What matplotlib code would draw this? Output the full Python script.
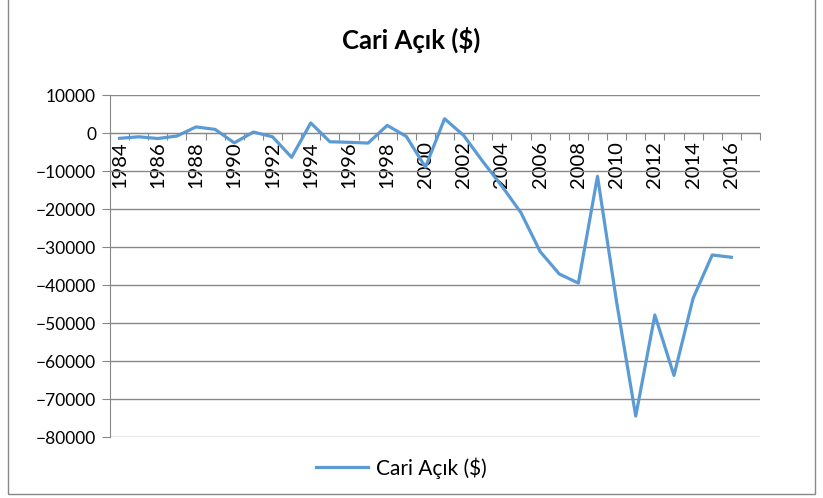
import matplotlib.pyplot as plt
from matplotlib.patches import Rectangle
from matplotlib.ticker import MultipleLocator

plt.rcParams["font.family"] = ["Lato", "DejaVu Sans"]

# Veriler
years = list(range(1984, 2017))
cari_acik = [-1400, -1000, -1450, -800, 1600, 950, -2600, 250, -1000, -6400,
             2650, -2300, -2450, -2650, 2000, -900, -9000, 3750, -650, -7500,
             -14000, -21000, -31200, -37100, -39500, -11400, -44500, -74500, -47900, -63800,
             -43500, -32100, -32700]
label_years = list(range(1984, 2017, 2))

line_color = '#5B9BD5'
grid_color = '#888888'

fig = plt.figure(figsize=(8.23, 4.98), dpi=100)
ax = fig.add_axes([110 / 823, 1 - 437 / 498, 650 / 823, 342 / 498])

# Linie
ax.plot(years, cari_acik, color=line_color, linewidth=2.3, label='Cari Açık ($)')

# Y-Achse
ax.set_ylim(-80000, 10000)
ax.yaxis.set_major_locator(MultipleLocator(10000))
ax.grid(axis='y', color=grid_color, linewidth=1)
ax.set_axisbelow(True)
ax.tick_params(axis='y', length=6, color=grid_color, labelsize=12.5, pad=4)

# X-Achse bei y=0, Teilstriche zwischen den Kategorien
ax.set_xlim(1983.5, 2017.5)
ax.spines['bottom'].set_position(('data', 0))
ax.spines['bottom'].set_color(grid_color)
ax.spines['left'].set_color(grid_color)
ax.spines['top'].set_visible(False)
ax.spines['right'].set_visible(False)
ax.set_xticks([y + 0.5 for y in range(1983, 2018)])
ax.tick_params(axis='x', which='major', length=5, color=grid_color, labelbottom=False)
ax.set_xticks(label_years, minor=True)
ax.set_xticklabels([str(y) for y in label_years], minor=True, rotation=90, fontsize=14.5)
ax.tick_params(axis='x', which='minor', length=0, pad=6)

# Titel
fig.text(0.5, 1 - 40 / 498, 'Cari Açık ($)', ha='center', va='center',
         fontsize=18.5, fontweight='bold')

# Legende
ax.legend(loc='center', bbox_to_anchor=(0.448, -0.09), frameon=False,
          fontsize=15, handlelength=2.5, handletextpad=0.35)

# Rahmen
fig.patches.append(Rectangle((8 / 823, 4 / 498), 807 / 823, 500 / 498,
                             transform=fig.transFigure, fill=False,
                             edgecolor='#888888', linewidth=1))

plt.savefig('out.png', dpi=100)
